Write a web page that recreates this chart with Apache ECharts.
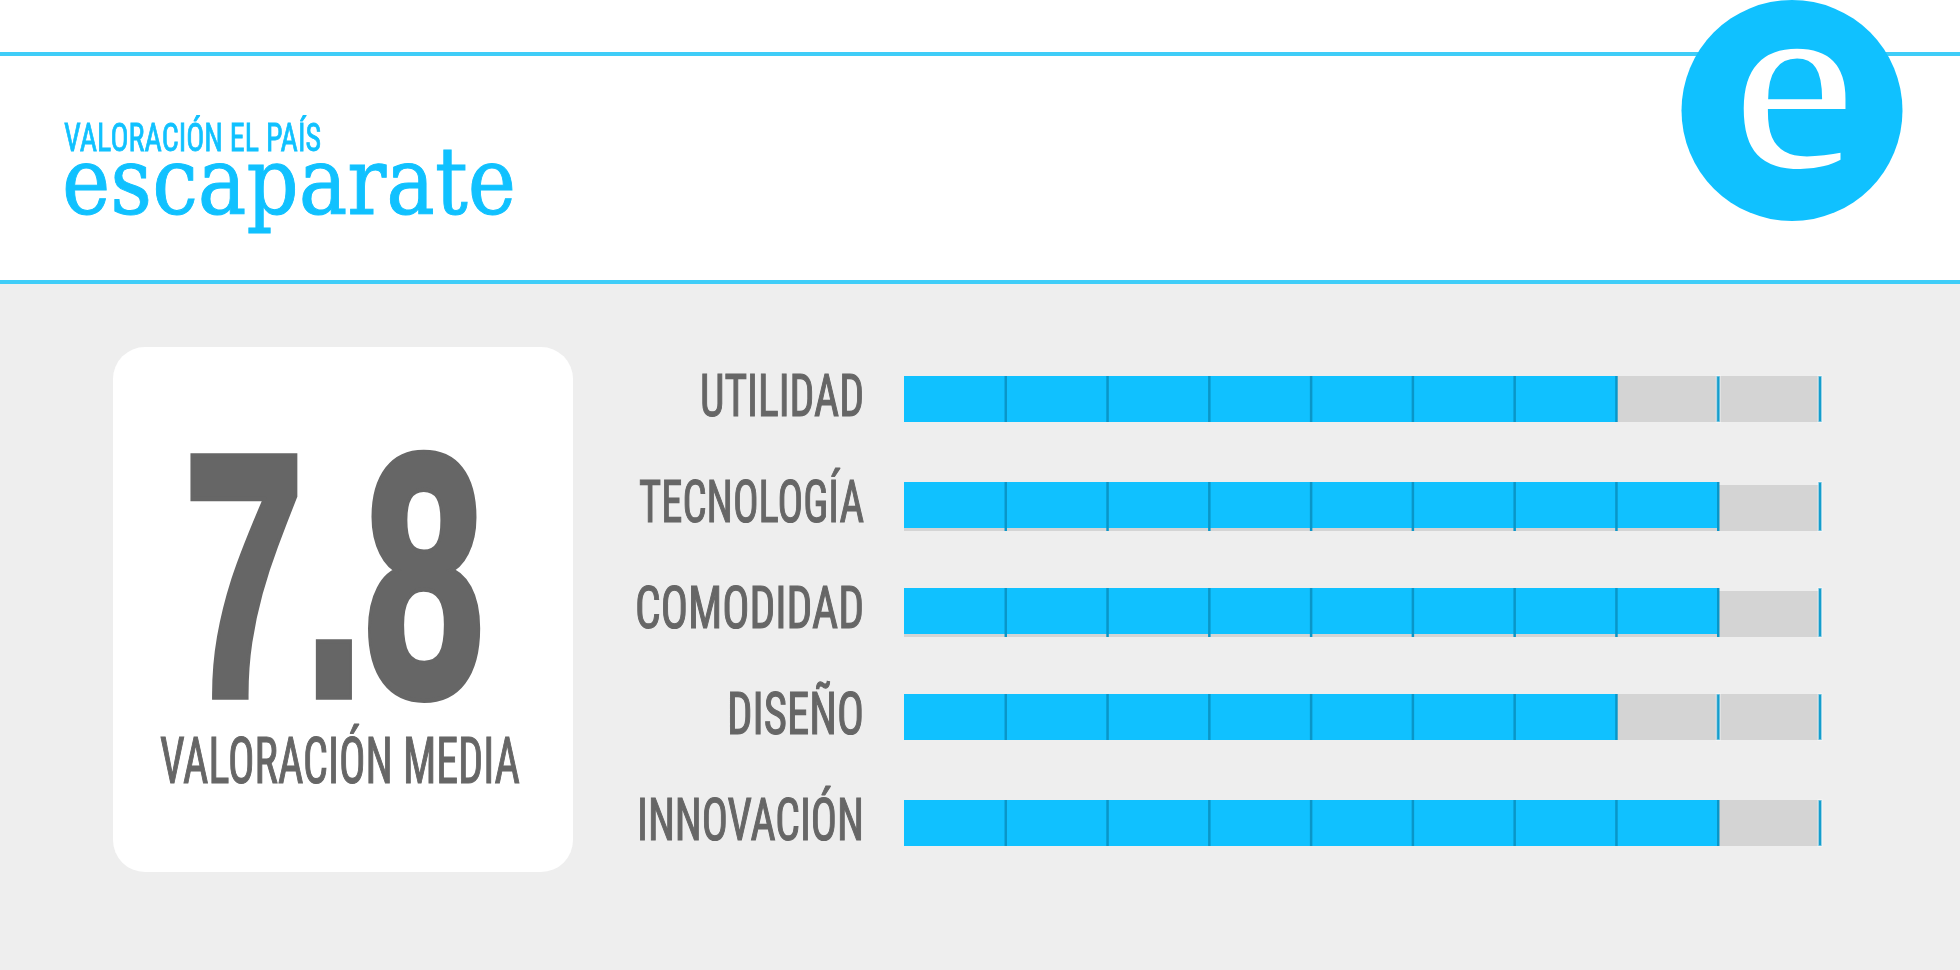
<!DOCTYPE html>
<html><head><meta charset="utf-8">
<style>html,body{margin:0;padding:0;background:#fff}#c{width:1960px;height:970px}</style>
<script src="https://cdn.jsdelivr.net/npm/echarts@6/dist/echarts.min.js"></script>
</head><body><div id="c"></div>
<script>
const categories = ['UTILIDAD','TECNOLOGÍA','COMODIDAD','DISEÑO','INNOVACIÓN'];
const values = [7,8,8,7,8];
const tickValues = [1,2,3,4,5,6,7,8,9];
const scaleMax = 9;
const overall = '7.8';
const overallLabel = 'VALORACIÓN MEDIA';
const kicker = 'VALORACIÓN EL PAÍS';
const brand = 'escaparate';

const BLUE='#10c1ff', LINE='#3fcdf8', GREY='#666666';
const COND='Roboto Condensed', HEAVY='Liberation Sans';
const ctx=document.createElement('canvas').getContext('2d');
function fit(text,size,family,weight,w){ctx.font=weight+' '+size+'px '+family;return w/ctx.measureText(text).width;}
const labelWidths=[164,225,229,137,227];
const trackDrop=[0,3,3,0,0];
const chart = echarts.init(document.getElementById('c'),null,{renderer:'canvas'});

function txt(text,x,y,size,family,weight,color,width,align,extra){
  return {type:'text',x:x,y:y,scaleX:fit(text,size,family,weight,width),z:5,style:Object.assign({text:text,fontSize:size,fontFamily:family,fontWeight:weight,fill:color,align:align||'left',verticalAlign:'middle'},extra||{})};
}

chart.setOption({
  animation:false,
  backgroundColor:'#ffffff',
  graphic:[
    {type:'rect',shape:{x:0,y:284,width:1960,height:686},style:{fill:'#eeeeee'},z:0},
    {type:'rect',shape:{x:0,y:52,width:1960,height:4},style:{fill:LINE},z:1},
    {type:'rect',shape:{x:0,y:280,width:1960,height:4},style:{fill:LINE},z:1},
    {type:'circle',shape:{cx:1792,cy:110.5,r:110.5},style:{fill:BLUE},z:2},
    txt('e',1794,101,250,'Liberation Serif','normal','#ffffff',122,'center'),
    txt(kicker,64,141,39,COND,'normal',BLUE,257,'left',{stroke:BLUE,lineWidth:0.8}),
    txt(brand,62,190,94,'DejaVu Serif','normal',BLUE,454,'left',{stroke:BLUE,lineWidth:1}),
    {type:'rect',shape:{x:113,y:347,width:460,height:525,r:32},style:{fill:'#ffffff'},z:1},
    txt(overall,334,600,345,HEAVY,'bold',GREY,300,'center',{stroke:GREY,lineWidth:9,lineJoin:'miter'}),
    txt(overallLabel,340,767,65,COND,'normal',GREY,360,'center',{stroke:GREY,lineWidth:1.2})
  ],
  grid:{left:904,width:916,top:346,height:530,containLabel:false},
  xAxis:{type:'value',min:0,max:scaleMax,interval:1,axisLine:{show:false},axisTick:{show:false},axisLabel:{show:false},splitLine:{show:false}},
  yAxis:{type:'category',inverse:true,data:categories,axisLine:{show:false},axisTick:{show:false},axisLabel:{show:false},splitLine:{show:false}},
  series:[
    {type:'custom',coordinateSystem:'cartesian2d',z:1,clip:false,
     data:categories.map((c,i)=>[scaleMax,i]),
     encode:{x:0,y:1},
     renderItem:function(p,api){
       const i=api.value(1),a=api.coord([0,i]),b=api.coord([scaleMax,i]);
       return {type:'rect',shape:{x:a[0],y:a[1]-23+trackDrop[i],width:b[0]-a[0],height:46},style:{fill:'#d4d4d4'}};
     }},
    {type:'bar',data:values,barWidth:46,itemStyle:{color:BLUE},z:2},
    {type:'custom',coordinateSystem:'cartesian2d',z:3,clip:false,
     data:categories.flatMap((c,i)=>tickValues.map(v=>[v,i])),
     encode:{x:0,y:1},
     renderItem:function(p,api){
       const v=api.value(0),i=api.value(1),pt=api.coord([v,i]);
       const done=v<=values[i] && v<scaleMax;
       return {type:'rect',shape:{x:pt[0]-(done?1.25:1.75),y:pt[1]-23,width:done?2.5:3.5,height:46+trackDrop[i]},
               style:{fill:done?'#0a96c8':'#149dcc',stroke:done?null:'rgba(255,255,255,0.45)',lineWidth:done?0:1.5}};
     }},
    {type:'custom',coordinateSystem:'cartesian2d',z:4,clip:false,
     data:categories.map((c,i)=>[0,i]),
     encode:{x:0,y:1},
     renderItem:function(p,api){
       const i=api.value(1),pt=api.coord([0,i]);
       return {type:'text',x:pt[0]-40,y:pt[1]+2,scaleX:fit(categories[i],59,COND,'normal',labelWidths[i]),style:{text:categories[i],fontSize:59,fontFamily:COND,stroke:GREY,lineWidth:1.2,fill:GREY,align:'right',verticalAlign:'middle'}};
     }}
  ]
});
</script></body></html>
